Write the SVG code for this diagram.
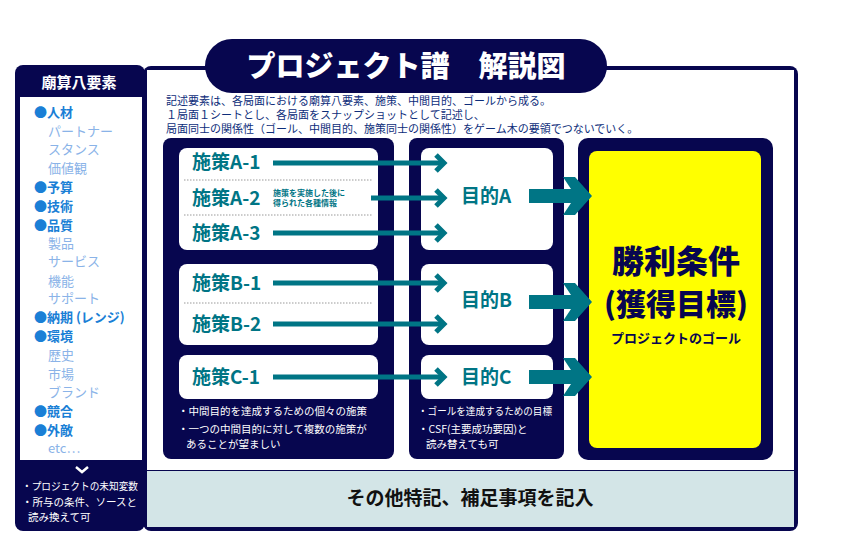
<svg xmlns="http://www.w3.org/2000/svg" width="842" height="548" viewBox="0 0 842 548">
<style>
text{font-family:"Noto Sans CJK JP","Noto Sans",sans-serif}
.nv{fill:#07064f}
.wb{fill:#fff}
.lbl{fill:#007585;font-size:19px;font-weight:bold}
.it{fill:#1a7fd6;font-size:13px;font-weight:bold}
.sub{fill:#8ab3e8;font-size:13px}
.note{fill:#fff;font-size:10.5px}
.desc{fill:#0d2d7a;font-size:11px}
.ln{stroke:#007585;stroke-width:5;fill:none}
.dot{stroke:#999;stroke-width:1;stroke-dasharray:1.5 1.5}
</style>
<defs>
<marker id="ah" markerUnits="userSpaceOnUse" markerWidth="14" markerHeight="22" refX="10" refY="11" orient="auto"><path d="M2,3 L10,11 L2,19" fill="none" stroke="#007585" stroke-width="5"/></marker>
<path id="big" d="M0,-7 H42 L34,-19 H46 L63,0 L46,19 H34 L42,7 H0 Z" fill="#007585"/>
</defs>
<rect width="842" height="548" fill="#fff"/>
<g id="frame">
<rect x="143" y="66" width="655" height="465" rx="8" class="nv"/>
<rect x="147" y="70" width="647" height="400" fill="#fff"/>
<rect x="147" y="471" width="647" height="56" fill="#d3e5e7"/>
</g>
<g id="title">
<rect x="205" y="39" width="402" height="54" rx="27" class="nv"/>
<text x="406" y="77" text-anchor="middle" fill="#fff" font-size="29" font-weight="900">プロジェクト譜　解説図</text>
</g>
<g id="left">
<rect x="15" y="65" width="130" height="466" rx="8" class="nv"/>
<text x="79" y="88" text-anchor="middle" fill="#fff" font-size="15" font-weight="bold">廟算八要素</text>
<rect x="20" y="97" width="122" height="363" fill="#fff"/>
<text class="it" x="34" y="117">●人材</text>
<text class="sub" x="48" y="136">パートナー</text>
<text class="sub" x="48" y="154">スタンス</text>
<text class="sub" x="48" y="173">価値観</text>
<text class="it" x="34" y="192">●予算</text>
<text class="it" x="34" y="211">●技術</text>
<text class="it" x="34" y="230">●品質</text>
<text class="sub" x="48" y="248">製品</text>
<text class="sub" x="48" y="266">サービス</text>
<text class="sub" x="48" y="286">機能</text>
<text class="sub" x="48" y="303">サポート</text>
<text class="it" x="34" y="322">●納期 (レンジ)</text>
<text class="it" x="34" y="341">●環境</text>
<text class="sub" x="48" y="360">歴史</text>
<text class="sub" x="48" y="379">市場</text>
<text class="sub" x="48" y="397">ブランド</text>
<text class="it" x="34" y="416">●競合</text>
<text class="it" x="34" y="435">●外敵</text>
<text class="sub" x="48" y="453">etc…</text>
<path d="M76,467 L82,472 L88,467" fill="none" stroke="#fff" stroke-width="2.5"/>
<text class="note" x="22" y="490" font-size="9" textLength="116" lengthAdjust="spacingAndGlyphs">・プロジェクトの未知変数</text>
<text class="note" x="22" y="506" font-size="9">・所与の条件、ソースと</text>
<text class="note" x="28" y="521" font-size="9">読み換えて可</text>
</g>
<g id="desc">
<text class="desc" x="166" y="105">記述要素は、各局面における廟算八要素、施策、中間目的、ゴールから成る。</text>
<text class="desc" x="166" y="119">１局面１シートとし、各局面をスナップショットとして記述し、</text>
<text class="desc" x="166" y="133">局面同士の関係性（ゴール、中間目的、施策同士の関係性）をゲーム木の要領でつないでいく。</text>
</g>
<g id="col1">
<rect x="163" y="138" width="231" height="321" rx="8" class="nv"/>
<rect x="179" y="148" width="199" height="102" rx="8" class="wb"/>
<rect x="179" y="264" width="199" height="81" rx="8" class="wb"/>
<rect x="179" y="355" width="199" height="44" rx="8" class="wb"/>
<line class="dot" x1="184" y1="180" x2="372" y2="180"/>
<line class="dot" x1="184" y1="215" x2="372" y2="215"/>
<line class="dot" x1="184" y1="303" x2="372" y2="303"/>
<text class="lbl" x="192" y="169">施策A-1</text>
<text class="lbl" x="192" y="205">施策A-2</text>
<text x="273" y="196" fill="#007585" font-size="8" font-weight="bold">施策を実施した後に</text>
<text x="273" y="206" fill="#007585" font-size="8" font-weight="bold">得られた各種情報</text>
<text class="lbl" x="192" y="240">施策A-3</text>
<text class="lbl" x="192" y="290">施策B-1</text>
<text class="lbl" x="192" y="331">施策B-2</text>
<text class="lbl" x="192" y="384">施策C-1</text>
<text class="note" x="178" y="415" font-size="10">・中間目的を達成するための個々の施策</text>
<text class="note" x="178" y="433" font-size="10">・一つの中間目的に対して複数の施策が</text>
<text class="note" x="186" y="448" font-size="10">あることが望ましい</text>
</g>
<g id="col2">
<rect x="409" y="138" width="155" height="321" rx="8" class="nv"/>
<rect x="421" y="148" width="132" height="102" rx="8" class="wb"/>
<rect x="421" y="264" width="132" height="81" rx="8" class="wb"/>
<rect x="421" y="355" width="132" height="44" rx="8" class="wb"/>
<text class="lbl" x="461" y="203">目的A</text>
<text class="lbl" x="461" y="307">目的B</text>
<text class="lbl" x="461" y="384">目的C</text>
<text class="note" x="418" y="415" font-size="9" textLength="134" lengthAdjust="spacingAndGlyphs">・ゴールを達成するための目標</text>
<text class="note" x="418" y="433" font-size="9">・CSF(主要成功要因)と</text>
<text class="note" x="426" y="448" font-size="9">読み替えても可</text>
</g>
<g id="goal">
<rect x="578" y="138" width="195" height="322" rx="10" class="nv"/>
<rect x="589" y="151" width="172" height="297" rx="8" fill="#ffff00"/>
<text x="676" y="273" text-anchor="middle" fill="#07064f" font-size="32" font-weight="900">勝利条件</text>
<text x="676" y="315" text-anchor="middle" fill="#07064f" font-size="30" font-weight="900">(獲得目標)</text>
<text x="676" y="343" text-anchor="middle" fill="#07064f" font-size="13" font-weight="bold">プロジェクトのゴール</text>
</g>
<g id="bottom">
<text x="470" y="505" text-anchor="middle" fill="#111" font-size="19" font-weight="bold">その他特記、補足事項を記入</text>
</g>
<g id="connectors">
<line class="ln" x1="273" y1="163" x2="444" y2="163" marker-end="url(#ah)"/>
<line class="ln" x1="371" y1="198" x2="444" y2="198" marker-end="url(#ah)"/>
<line class="ln" x1="273" y1="233" x2="444" y2="233" marker-end="url(#ah)"/>
<line class="ln" x1="273" y1="283" x2="444" y2="283" marker-end="url(#ah)"/>
<line class="ln" x1="273" y1="324" x2="444" y2="324" marker-end="url(#ah)"/>
<line class="ln" x1="273" y1="377" x2="444" y2="377" marker-end="url(#ah)"/>
<use href="#big" x="529" y="196"/>
<use href="#big" x="529" y="302"/>
<use href="#big" x="529" y="377"/>
</g>
</svg>
